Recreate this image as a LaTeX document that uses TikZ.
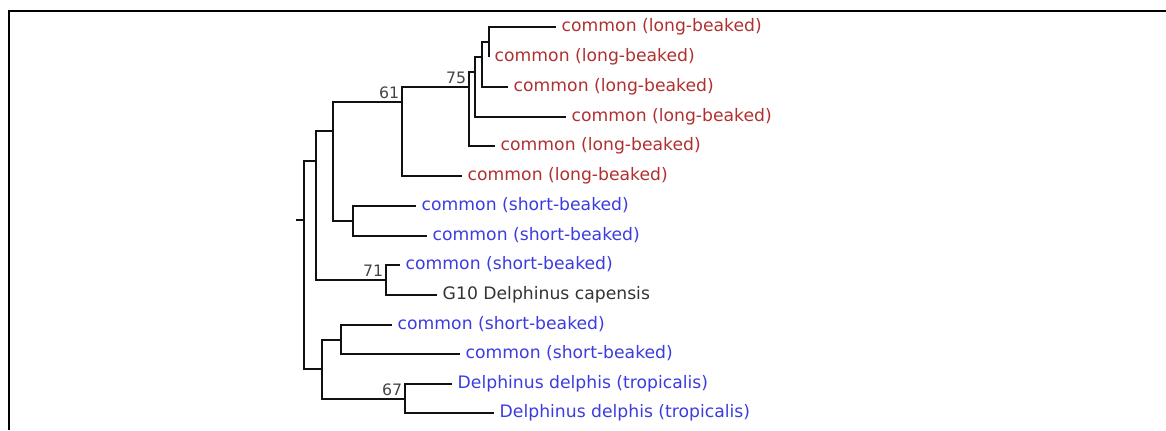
\documentclass[tikz,border=0pt]{standalone}
\usepackage{fontspec}
\setmainfont{DejaVu Sans}
\definecolor{Ink}{HTML}{111111}
\definecolor{LongRed}{HTML}{B03030}
\definecolor{ShortBlue}{HTML}{3B3BE0}
\definecolor{Capense}{HTML}{333333}
\definecolor{Boot}{HTML}{444444}
\begin{document}
\begin{tikzpicture}[x=0.75pt,y=-0.75pt,font=\fontsize{12.9}{15}\selectfont,branch/.style={line width=1.5pt,draw=Ink},leaf/.style={anchor=base west,inner sep=0pt,xshift=4.1pt,yshift=-3.6pt},longb/.style={leaf,text=LongRed},shortb/.style={leaf,text=ShortBlue},support/.style={anchor=base east,inner sep=0pt,xshift=-2pt,yshift=3pt,text=Boot,font=\fontsize{11.8}{14}\selectfont}]
\useasboundingbox (0,0) rectangle (1166,430);
\draw[line width=1.5pt] (9,430) -- (9,11) -- (1166,11);
% leaves
\coordinate (l1) at (556,27);
\coordinate (l2) at (489,57);
\coordinate (l3) at (508,87);
\coordinate (l4) at (566,117);
\coordinate (l5) at (495,146);
\coordinate (l6) at (462,176);
\coordinate (l7) at (416,206);
\coordinate (l8) at (427,236);
\coordinate (l9) at (400,265);
\coordinate (l10) at (437,295);
\coordinate (l11) at (392,325);
\coordinate (l12) at (460,354);
\coordinate (l13) at (452,384);
\coordinate (l14) at (494,413);
% inner nodes
\coordinate (na) at (489,42);
\coordinate (nb) at (482,57);
\coordinate (nc) at (475,72);
\coordinate (n75) at (469,87);
\coordinate (n61) at (402,102);
\coordinate (ns) at (353,221);
\coordinate (ng) at (333,131);
\coordinate (n71) at (386,280);
\coordinate (ne) at (316,161);
\coordinate (nj) at (341,340);
\coordinate (n67) at (405,399);
\coordinate (nf) at (322,369);
\coordinate (root) at (304,220);
\coordinate (stub) at (296,220);
% branches
\draw[branch] (stub) -- (root);
\draw[branch] (root) |- (ne); \draw[branch] (root) |- (nf);
\draw[branch] (ne) |- (ng); \draw[branch] (ne) |- (n71);
\draw[branch] (ng) |- (n61); \draw[branch] (ng) |- (ns);
\draw[branch] (n61) |- (n75); \draw[branch] (n61) |- (l6);
\draw[branch] (n75) |- (nc); \draw[branch] (n75) |- (l5);
\draw[branch] (nc) |- (nb); \draw[branch] (nc) |- (l4);
\draw[branch] (nb) |- (na); \draw[branch] (nb) |- (l3);
\draw[branch] (na) |- (l1); \draw[branch] (na) -- (l2);
\draw[branch] (ns) |- (l7); \draw[branch] (ns) |- (l8);
\draw[branch] (n71) |- (l9); \draw[branch] (n71) |- (l10);
\draw[branch] (nf) |- (nj); \draw[branch] (nf) |- (n67);
\draw[branch] (nj) |- (l11); \draw[branch] (nj) |- (l12);
\draw[branch] (n67) |- (l13); \draw[branch] (n67) |- (l14);
% labels
\node[longb] (t1) at (l1) {common (long-beaked)};
\node[longb] (t2) at (l2) {common (long-beaked)};
\node[longb] (t3) at (l3) {common (long-beaked)};
\node[longb] (t4) at (l4) {common (long-beaked)};
\node[longb] (t5) at (l5) {common (long-beaked)};
\node[longb] (t6) at (l6) {common (long-beaked)};
\node[shortb] (t7) at (l7) {common (short-beaked)};
\node[shortb] (t8) at (l8) {common (short-beaked)};
\node[shortb] (t9) at (l9) {common (short-beaked)};
\node[leaf,text=Capense] (t10) at (l10) {G10 Delphinus capensis};
\node[shortb] (t11) at (l11) {common (short-beaked)};
\node[shortb] (t12) at (l12) {common (short-beaked)};
\node[shortb] (t13) at (l13) {Delphinus delphis (tropicalis)};
\node[shortb] (t14) at (l14) {Delphinus delphis (tropicalis)};
\node[support] (s61) at (n61) {61};
\node[support] (s75) at (n75) {75};
\node[support] (s71) at (n71) {71};
\node[support] (s67) at (n67) {67};
\end{tikzpicture}
\end{document}
